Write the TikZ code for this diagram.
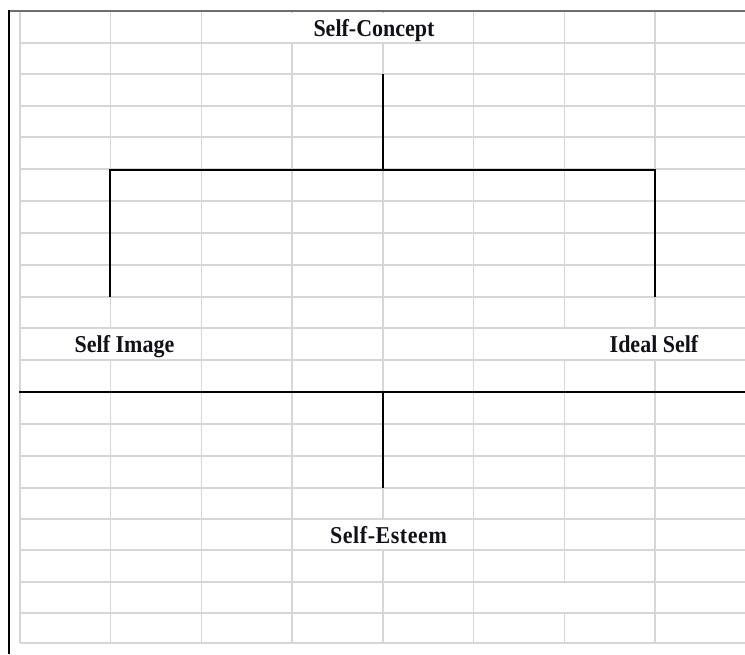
\documentclass[tikz,border=0pt]{standalone}
\usepackage{fontspec}
\setmainfont{Liberation Serif}
\definecolor{gridgray}{HTML}{D6D6D6}
\definecolor{framegray}{HTML}{6E6E6E}
\definecolor{txt}{HTML}{111118}
\newcommand{\tallbox}[1]{\scalebox{1}[1.1]{#1}}
\begin{document}
\begin{tikzpicture}[x=1pt,y=-1pt,
  gridline/.style={draw=gridgray, line width=1.3pt},
  conn/.style={draw=black, line width=2.5pt},
  lbl/.style={font=\fontsize{22}{26}\selectfont\bfseries, text=txt, anchor=base, inner sep=0pt}]
\fill[white] (0,0) rectangle (745,654);
\useasboundingbox (0,0) rectangle (745,654);
% grid: horizontal lines
\foreach \y in {43,74,106,137,169,201,233,265,297,328,360,392,424,456,488,519,550,582,613,643}
  \draw[gridline] (20,\y) -- (745,\y);
% grid: vertical lines
\foreach \x in {20,110.7,201.4,292.1,382.9,473.6,564.3,655}
  \draw[gridline] (\x,11) -- (\x,643);
% merged cells
\fill[white] (203,12.5) rectangle (471.5,41.8);
\fill[white] (21.5,329.2) rectangle (199.5,358.8);
\fill[white] (475.5,329.2) rectangle (745,358.8);
\fill[white] (294,520.2) rectangle (471.5,548.8);
\fill[white] (475.5,583.2) rectangle (653,611.8);
% frame
\draw[framegray, line width=1.3pt] (8.4,11) -- (745,11);
\draw[black, line width=1.3pt] (9,10.4) -- (9,654);
% labels
\node[lbl] (sc) at (374,36) {\tallbox{Self-Concept}};
\node[lbl] (si) at (124.5,352) {\tallbox{Self Image}};
\node[lbl] (is) at (654,352) {\tallbox{Ideal Self}};
\node[lbl] (se) at (388.5,543) {\tallbox{\addfontfeature{LetterSpace=2.5}Self-Esteem}};
% connector points
\coordinate (tTop) at (383,74);
\coordinate (tMid) at (383,170);
\coordinate (tL) at (110,170);
\coordinate (tR) at (655,170);
\coordinate (tLb) at (110,297);
\coordinate (tRb) at (655,297);
\coordinate (bL) at (19,392);
\coordinate (bR) at (745,392);
\coordinate (bM) at (383,392);
\coordinate (bBot) at (383,488);
\draw[conn] (tTop) -- (tMid);
\draw[conn] (tLb) -- (tL) -- (tR) -- (tRb);
\draw[conn] (bL) -- (bR);
\draw[conn] (bM) -- (bBot);
\end{tikzpicture}
\end{document}
